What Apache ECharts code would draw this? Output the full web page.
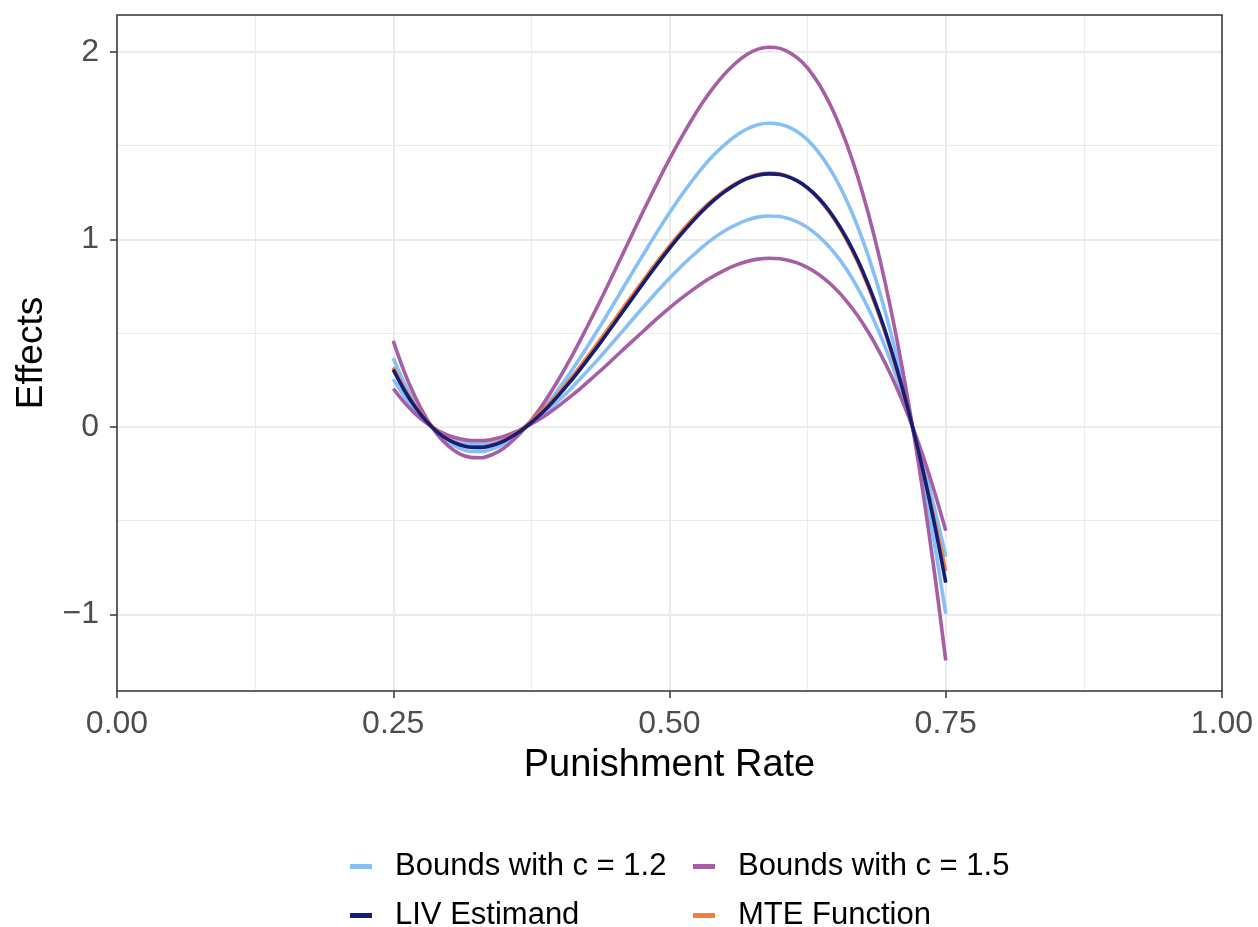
<!DOCTYPE html>
<html><head><meta charset="utf-8">
<script src="https://cdn.jsdelivr.net/npm/echarts@6/dist/echarts.min.js"></script>
<style>html,body{margin:0;padding:0;background:#fff}#c{width:1258px;height:927px}</style>
</head><body><div id="c"></div>
<script>
// Punishment rate grid (x), 0.25 .. 0.75
const xs = [0.25,0.26,0.27,0.28,0.29,0.30,0.31,0.32,0.33,0.34,0.35,0.36,0.37,0.38,0.39,0.40,0.41,0.42,0.43,0.44,0.45,0.46,0.47,0.48,0.49,0.50,
            0.51,0.52,0.53,0.54,0.55,0.56,0.57,0.58,0.59,0.60,0.61,0.62,0.63,0.64,0.65,0.66,0.67,0.68,0.69,0.70,0.71,0.72,0.73,0.74,0.75];
// LIV Estimand
const liv = [0.306,0.196,0.105,0.031,-0.027,-0.068,-0.095,-0.108,-0.109,-0.097,-0.075,-0.042,0.000,0.050,0.107,0.171,0.240,0.314,0.391,0.470,0.552,0.634,0.716,0.797,0.876,0.952,
             1.024,1.091,1.153,1.208,1.255,1.294,1.324,1.343,1.350,1.346,1.328,1.297,1.250,1.187,1.107,1.010,0.894,0.758,0.602,0.424,0.224,0.000,-0.248,-0.523,-0.830];
// MTE Function
const mte = [0.318,0.206,0.112,0.036,-0.024,-0.066,-0.093,-0.106,-0.106,-0.093,-0.070,-0.036,0.007,0.059,0.118,0.183,0.254,0.329,0.407,0.487,0.569,0.651,0.732,0.812,0.890,0.965,
             1.036,1.102,1.162,1.215,1.261,1.298,1.327,1.346,1.354,1.349,1.330,1.296,1.247,1.182,1.100,1.001,0.884,0.747,0.591,0.414,0.216,-0.004,-0.246,-0.502,-0.768];
// Bounds with c = 1.2 (upper-at-peak / lower-at-peak curve)
const c12a = [0.367,0.235,0.126,0.037,-0.032,-0.082,-0.114,-0.130,-0.131,-0.116,-0.090,-0.050,0.000,0.060,0.128,0.205,0.288,0.377,0.469,0.564,0.662,0.761,0.859,0.956,1.051,1.142,
              1.229,1.309,1.384,1.450,1.506,1.553,1.589,1.612,1.620,1.615,1.594,1.556,1.500,1.424,1.328,1.212,1.073,0.910,0.722,0.509,0.269,0.000,-0.298,-0.628,-0.996];
const c12b = [0.255,0.163,0.088,0.026,-0.023,-0.057,-0.079,-0.090,-0.091,-0.081,-0.063,-0.035,0.000,0.042,0.089,0.143,0.200,0.262,0.326,0.392,0.460,0.528,0.597,0.664,0.730,0.793,
              0.853,0.909,0.961,1.007,1.046,1.078,1.103,1.119,1.125,1.122,1.107,1.081,1.042,0.989,0.923,0.842,0.745,0.632,0.502,0.353,0.187,0.000,-0.207,-0.436,-0.692];
// Bounds with c = 1.5 (upper-at-peak / lower-at-peak curve)
const c15a = [0.459,0.294,0.158,0.047,-0.041,-0.102,-0.143,-0.162,-0.164,-0.146,-0.113,-0.063,0.000,0.075,0.161,0.257,0.360,0.471,0.587,0.705,0.828,0.951,1.074,1.196,1.314,1.428,
              1.536,1.637,1.730,1.812,1.883,1.941,1.986,2.015,2.025,2.019,1.992,1.946,1.875,1.781,1.661,1.515,1.341,1.137,0.903,0.636,0.336,0.000,-0.372,-0.785,-1.245];
const c15b = [0.204,0.131,0.070,0.021,-0.018,-0.045,-0.063,-0.072,-0.073,-0.065,-0.050,-0.028,0.000,0.033,0.071,0.114,0.160,0.209,0.261,0.313,0.368,0.423,0.477,0.531,0.584,0.635,
              0.683,0.727,0.769,0.805,0.837,0.863,0.883,0.895,0.900,0.897,0.885,0.865,0.833,0.791,0.738,0.673,0.596,0.505,0.401,0.283,0.149,0.000,-0.165,-0.349,-0.553];

const yTicks = [-1,0,1,2];
const yMinorTicks = [-0.5,0.5,1.5];
const names = ['Bounds with c = 1.2','Bounds with c = 1.5','LIV Estimand','MTE Function'];

const COL = {c12:'#86C0F5', c15:'#A65EA5', liv:'#141E78', mte:'#F57D37'};
const FONT = '"Liberation Sans", Arial, Helvetica, sans-serif';

function pairs(ys){ return xs.map((x,i)=>[x,ys[i]]); }
function line(name, ys, color, z){
  return {type:'line', name, data:pairs(ys), symbol:'none', smooth:0.3, color,
    lineStyle:{color, width:3.6, cap:'butt', join:'round'}, z, silent:true, animation:false};
}

const legendBase = {icon:'rect', itemWidth:22, itemHeight:5, selectedMode:false,
  textStyle:{fontSize:31, color:'#000', fontFamily:FONT, padding:[0,0,0,18]}};

const chart = echarts.init(document.getElementById('c'));
chart.setOption({
  animation:false,
  backgroundColor:'#fff',
  grid:{left:117, right:36, top:15, bottom:236, show:true, z:1, borderColor:'#333333', borderWidth:1.5, backgroundColor:'transparent'},
  legend:[
    Object.assign({}, legendBase, {data:[names[0]], left:345, top:846}),
    Object.assign({}, legendBase, {data:[names[1]], left:688, top:846}),
    Object.assign({}, legendBase, {data:[names[2]], left:345, top:895}),
    Object.assign({}, legendBase, {data:[names[3]], left:688, top:895})
  ],
  xAxis:{type:'value', min:0, max:1, interval:0.25,
    name:'Punishment Rate', nameLocation:'middle', nameGap:56,
    nameTextStyle:{fontSize:38, color:'#000', fontFamily:FONT},
    axisLine:{show:false, onZero:false},
    axisTick:{show:true, length:7, lineStyle:{color:'#333333', width:1.5}},
    axisLabel:{fontSize:32, color:'#4D4D4D', fontFamily:FONT, margin:17, formatter:v=>v.toFixed(2)},
    splitLine:{show:true, lineStyle:{color:'#EBEBEB', width:2}},
    minorTick:{show:false, splitNumber:2},
    minorSplitLine:{show:true, lineStyle:{color:'#EBEBEB', width:1}}
  },
  yAxis:[
    {type:'value', min:-1.408, max:2.197,
      name:'Effects', nameLocation:'middle', nameGap:67,
      nameTextStyle:{fontSize:37, color:'#000', fontFamily:FONT},
      axisLine:{show:false, onZero:false},
      axisTick:{show:true, length:7, customValues:yTicks, lineStyle:{color:'#333333', width:1.5}},
      axisLabel:{fontSize:32, color:'#4D4D4D', fontFamily:FONT, margin:18, customValues:yTicks,
        formatter:v=> v<0 ? '\u2212'+Math.abs(v) : String(v)},
      splitLine:{show:true, lineStyle:{color:'#EBEBEB', width:2}}
    },
    {type:'value', min:-1.408, max:2.197, position:'left',
      axisLine:{show:false, onZero:false},
      axisTick:{show:false, customValues:yMinorTicks},
      axisLabel:{show:false, customValues:yMinorTicks},
      splitLine:{show:true, lineStyle:{color:'#EBEBEB', width:1}}
    }
  ],
  series:[
    line(names[0], c12a, COL.c12, 2),
    line(names[0], c12b, COL.c12, 2),
    line(names[1], c15a, COL.c15, 3),
    line(names[1], c15b, COL.c15, 3),
    line(names[3], mte, COL.mte, 4),
    line(names[2], liv, COL.liv, 5)
  ]
});
</script>
</body></html>
